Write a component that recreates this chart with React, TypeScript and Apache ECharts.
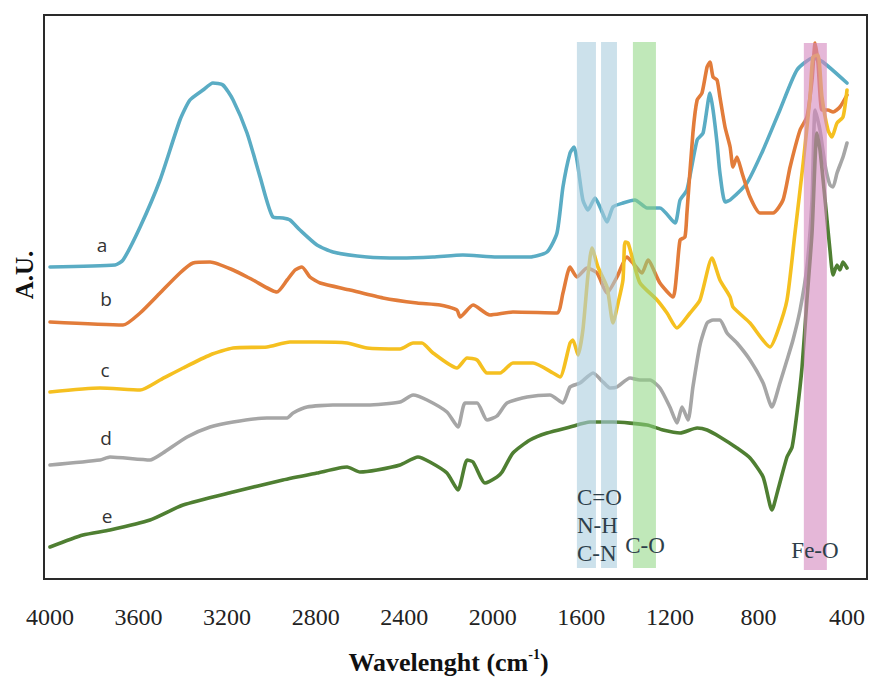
import React, { useEffect, useRef } from "react";
import * as echarts from "echarts";

// wavenumber (cm-1), arbitrary intensity (A.U.)
const seriesA: [number, number][] = [
  [4000,312],[3706,314],[3670,319],[3593,352],[3503,399],[3413,459],[3368,479],[3309,489],[3264,496],[3219,494],[3173,479],[3110,446],[3051,402],[2993,362],[2948,361],[2916,359],[2871,349],[2794,334],[2722,327],[2568,322],[2419,321],[2270,322],[2135,324],[1981,322],[1832,322],[1755,327],[1710,346],[1683,392],[1651,426],[1633,432],[1615,412],[1593,379],[1570,369],[1538,381],[1516,372],[1484,357],[1457,372],[1412,376],[1358,379],[1303,371],[1245,371],[1177,356],[1154,379],[1123,389],[1077,439],[1050,446],[1019,486],[1005,469],[987,436],[974,406],[951,377],[928,379],[852,396],[779,429],[703,469],[626,509],[554,521],[509,517],[400,496]
];
const seriesB: [number, number][] = [
  [4000,257],[3670,254],[3593,266],[3503,286],[3413,306],[3354,316],[3277,317],[3173,309],[3083,299],[2975,287],[2929,299],[2893,309],[2862,312],[2826,302],[2780,296],[2645,289],[2496,281],[2342,276],[2238,274],[2162,269],[2148,262],[2089,274],[2013,264],[1909,267],[1710,266],[1683,286],[1651,312],[1620,302],[1574,311],[1529,306],[1484,286],[1439,302],[1394,322],[1367,316],[1326,306],[1299,319],[1245,296],[1186,282],[1168,309],[1154,339],[1132,342],[1123,366],[1096,446],[1077,479],[1055,486],[1032,512],[1019,517],[1005,502],[987,499],[974,482],[951,452],[928,432],[915,412],[897,422],[874,406],[838,382],[793,366],[734,366],[689,379],[657,412],[612,449],[581,462],[558,499],[544,536],[531,516],[513,469],[486,469],[463,467],[432,472],[400,484]
];
const seriesC: [number, number][] = [
  [4000,187],[3774,191],[3593,189],[3503,199],[3399,211],[3277,224],[3173,231],[3020,232],[2916,237],[2794,237],[2658,236],[2568,231],[2419,230],[2360,236],[2320,236],[2270,226],[2162,211],[2116,221],[2071,219],[2026,206],[1967,206],[1909,216],[1818,216],[1728,206],[1696,202],[1651,236],[1638,239],[1615,224],[1593,249],[1570,304],[1552,331],[1525,312],[1484,292],[1457,256],[1434,276],[1412,299],[1403,337],[1389,336],[1367,319],[1335,296],[1258,279],[1213,266],[1168,251],[1109,266],[1064,279],[1010,321],[974,299],[928,282],[915,272],[838,256],[748,232],[716,246],[671,279],[635,346],[598,416],[567,482],[554,522],[531,524],[513,482],[486,449],[468,442],[445,456],[418,462],[400,489]
];
const seriesD: [number, number][] = [
  [4000,114],[3774,119],[3729,122],[3548,119],[3490,126],[3381,142],[3277,152],[3173,157],[3020,161],[2929,161],[2902,166],[2839,172],[2722,174],[2568,174],[2419,177],[2360,184],[2297,179],[2207,167],[2157,152],[2125,176],[2071,176],[2026,159],[1981,163],[1936,176],[1845,182],[1742,184],[1683,176],[1651,192],[1606,196],[1547,206],[1502,197],[1471,191],[1439,192],[1380,201],[1335,199],[1290,199],[1245,191],[1200,172],[1168,156],[1145,172],[1118,159],[1096,192],[1064,234],[1032,256],[1005,259],[974,259],[942,246],[897,236],[838,219],[779,196],[739,172],[703,196],[671,219],[644,239],[612,269],[581,312],[558,379],[544,469],[522,449],[499,414],[477,394],[463,392],[445,406],[418,422],[400,436]
];
const seriesE: [number, number][] = [
  [4000,32],[3851,44],[3729,49],[3548,59],[3399,74],[3173,87],[2948,99],[2794,106],[2658,112],[2600,107],[2523,109],[2419,114],[2338,122],[2284,117],[2207,106],[2157,89],[2116,119],[2089,117],[2035,96],[1981,102],[1958,107],[1909,126],[1832,139],[1755,146],[1651,152],[1561,157],[1457,157],[1303,154],[1231,149],[1154,146],[1077,151],[1032,149],[974,142],[897,131],[838,121],[779,102],[739,69],[712,89],[671,122],[648,132],[626,166],[603,212],[581,279],[558,346],[536,446],[522,429],[499,379],[477,329],[463,304],[445,314],[432,309],[418,317],[400,311]
];

const seriesNames = ["a", "b", "c", "d", "e"];

// highlighted bands: [from, to, bottom, top]
const bandFrom = [1620, 1511, 1367, 595];
const bandTo = [1534, 1439, 1263, 491];
const bandBottom = [11, 11, 11, 9];
const bandTop = [537, 537, 537, 536];
const bandLabels = ["C=O\nN-H\nC-N", "C-O", "Fe-O"];

const SERIF = "'Liberation Serif', 'Times New Roman', Times, serif";

export default function App() {
  const ref = useRef<HTMLDivElement>(null);
  useEffect(() => {
    if (!ref.current) return;
    const chart = echarts.init(ref.current, undefined, { renderer: "svg" });
    const colors = ["#5aacc4", "#e27c3a", "#f5c020", "#a6a6a6", "#4f7f32"];
    const bandColors = [
      "rgba(170,205,222,0.6)",
      "rgba(170,205,222,0.6)",
      "rgba(140,214,128,0.55)",
      "rgba(212,135,190,0.6)",
    ];
    const data = [seriesA, seriesB, seriesC, seriesD, seriesE];
    const bandData = bandFrom.map((f, i) => [f, bandTo[i], bandBottom[i], bandTop[i]]);
    const labelPos: [number, number][] = [
      [102, 245], [106, 299], [105, 370], [106, 438], [107, 516],
    ];
    chart.setOption({
      animation: false,
      grid: { left: 50, right: 22, top: 15, bottom: 105 },
      xAxis: {
        type: "value",
        inverse: true,
        min: 400,
        max: 4000,
        interval: 400,
        axisLine: { show: false },
        axisTick: { show: false },
        splitLine: { show: false },
        axisLabel: {
          margin: 26,
          fontFamily: SERIF,
          fontSize: 24,
          color: "#222",
          formatter: (v: number) => String(v),
        },
        name: "Wavelenght (cm{sup|-1})",
        nameLocation: "middle",
        nameGap: 68,
        nameTextStyle: {
          fontFamily: SERIF,
          fontWeight: "bold",
          fontSize: 26,
          color: "#111",
          lineHeight: 30,
          rich: {
            sup: {
              fontFamily: SERIF,
              fontWeight: "bold",
              fontSize: 14,
              color: "#111",
              verticalAlign: "top",
              lineHeight: 15,
            },
          },
        },
      },
      yAxis: {
        type: "value",
        min: 0,
        max: 564,
        axisLine: { show: false },
        axisTick: { show: false },
        axisLabel: { show: false },
        splitLine: { show: false },
      },
      series: [
        ...data.map((d, i) => ({
          type: "line",
          name: seriesNames[i],
          data: d,
          showSymbol: false,
          symbol: "none",
          smooth: 0.2,
          z: 2 + i * 0.01,
          lineStyle: { color: colors[i], width: 3.6, join: "round", cap: "round" },
          silent: true,
        })),
        {
          type: "custom",
          z: 10,
          silent: true,
          data: bandData,
          encode: { x: [0, 1], y: [2, 3] },
          renderItem: (params: any, api: any) => {
            const p1 = api.coord([api.value(0), api.value(3)]);
            const p2 = api.coord([api.value(1), api.value(2)]);
            return {
              type: "rect",
              shape: {
                x: Math.min(p1[0], p2[0]),
                y: Math.min(p1[1], p2[1]),
                width: Math.abs(p2[0] - p1[0]),
                height: Math.abs(p2[1] - p1[1]),
              },
              style: { fill: bandColors[params.dataIndex] },
            };
          },
        },
      ],
      graphic: [
        {
          type: "rect",
          z: 20,
          shape: { x: 44, y: 15, width: 823, height: 564 },
          style: { fill: "none", stroke: "#2a2a2a", lineWidth: 2 },
          silent: true,
        },
        {
          type: "text",
          z: 20,
          x: 24,
          y: 275,
          rotation: Math.PI / 2,
          style: {
            text: "A.U.",
            fontFamily: SERIF,
            fontWeight: "bold",
            fontSize: 25,
            fill: "#111",
            align: "center",
            verticalAlign: "middle",
          },
        },
        ...seriesNames.map((n, i) => ({
          type: "text",
          z: 20,
          x: labelPos[i][0],
          y: labelPos[i][1],
          style: {
            text: n,
            fontFamily: "'Open Sans', 'Noto Sans', sans-serif",
            fontSize: 19,
            fill: "#333",
            align: "center",
            verticalAlign: "middle",
          },
        })),
        {
          type: "text",
          z: 20,
          x: 577,
          y: 525,
          style: {
            text: bandLabels[0],
            fontFamily: SERIF,
            fontSize: 23,
            lineHeight: 28,
            fill: "#2e3f4a",
            align: "left",
            verticalAlign: "middle",
          },
        },
        {
          type: "text",
          z: 20,
          x: 645,
          y: 545,
          style: {
            text: bandLabels[1],
            fontFamily: SERIF,
            fontSize: 23,
            fill: "#2e3f4a",
            align: "center",
            verticalAlign: "middle",
          },
        },
        {
          type: "text",
          z: 20,
          x: 815,
          y: 550,
          style: {
            text: bandLabels[2],
            fontFamily: SERIF,
            fontSize: 23,
            fill: "#2e3f4a",
            align: "center",
            verticalAlign: "middle",
          },
        },
      ],
    });
    return () => chart.dispose();
  }, []);
  return (
    <div
      ref={ref}
      style={{ position: "absolute", left: 0, top: 0, width: 869, height: 684 }}
    />
  );
}
